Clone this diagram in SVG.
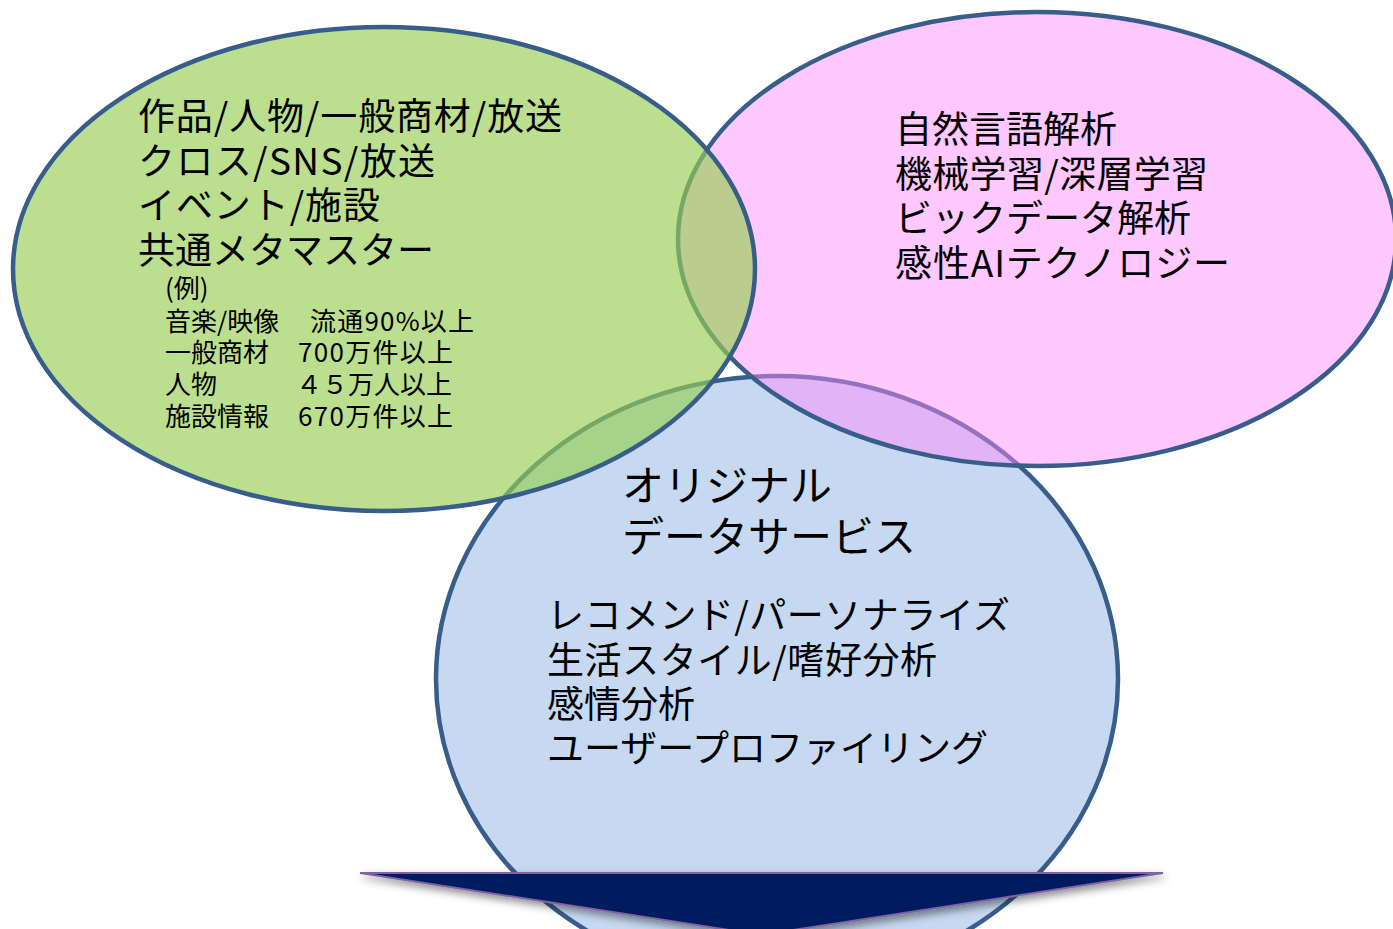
<svg xmlns="http://www.w3.org/2000/svg" width="1393" height="929" viewBox="0 0 1393 929">
<defs>
<style>
.t{font-family:"Noto Sans CJK JP","Noto Sans",sans-serif;fill:#000;}
.big{font-size:37px;}
.title{font-size:42px;}
.small{font-size:26px;}
.stk{stroke:#385D8A;stroke-width:4.5;}
</style>
<filter id="sh" x="-10%" y="-50%" width="120%" height="200%">
<feDropShadow dx="2" dy="4" stdDeviation="4" flood-color="#000" flood-opacity="0.45"/>
</filter>
</defs>
<rect width="1393" height="929" fill="#fff"/>
<g id="node-blue">
<ellipse cx="777" cy="679" rx="341" ry="303" fill="#C6D9F1" class="stk"/>
</g>
<g id="node-pink">
<ellipse cx="1037" cy="239" rx="359" ry="227" fill="rgb(255,138,255)" fill-opacity="0.47" stroke="none"/>
<ellipse cx="1037" cy="239" rx="359" ry="227" fill="none" class="stk"/>
</g>
<g id="node-green">
<ellipse cx="384" cy="269" rx="371" ry="242" fill="rgb(151,206,84)" fill-opacity="0.655" stroke="none"/>
<ellipse cx="384" cy="269" rx="371" ry="242" fill="none" class="stk"/>
</g>
<g id="arrow">
<polygon points="360,873 1163,873 761,935" fill="#001F5F" stroke="#8064A2" stroke-width="2" filter="url(#sh)"/>
</g>
<g id="text-green">
<text class="t big"><tspan x="138" y="130" textLength="424" lengthAdjust="spacing">作品/人物/一般商材/放送</tspan><tspan x="138" y="174.5" textLength="297" lengthAdjust="spacing">クロス/SNS/放送</tspan><tspan x="138" y="219" textLength="242" lengthAdjust="spacing">イベント/施設</tspan><tspan x="138" y="263.5">共通メタマスター</tspan></text>
<text class="t small"><tspan x="165" y="298">(例)</tspan><tspan x="165" y="331">音楽/映像</tspan><tspan x="310" y="331" textLength="164" lengthAdjust="spacing">流通90%以上</tspan><tspan x="165" y="362">一般商材</tspan><tspan x="298" y="362" textLength="155" lengthAdjust="spacing">700万件以上</tspan><tspan x="165" y="394">人物</tspan><tspan x="296" y="394">４５万人以上</tspan><tspan x="165" y="426">施設情報</tspan><tspan x="298" y="426" textLength="155" lengthAdjust="spacing">670万件以上</tspan></text>
</g>
<g id="text-pink">
<text class="t big"><tspan x="895" y="143">自然言語解析</tspan><tspan x="895" y="188" textLength="313" lengthAdjust="spacing">機械学習/深層学習</tspan><tspan x="895" y="232">ビックデータ解析</tspan><tspan x="895" y="277" textLength="335" lengthAdjust="spacing">感性AIテクノロジー</tspan></text>
</g>
<g id="text-blue">
<text class="t title"><tspan x="622" y="501">オリジナル</tspan><tspan x="622" y="552">データサービス</tspan></text>
<text class="t big"><tspan x="547" y="629" textLength="463" lengthAdjust="spacing">レコメンド/パーソナライズ</tspan><tspan x="547" y="674" textLength="390" lengthAdjust="spacing">生活スタイル/嗜好分析</tspan><tspan x="547" y="718">感情分析</tspan><tspan x="547" y="762">ユーザープロファイリング</tspan></text>
</g>
</svg>
